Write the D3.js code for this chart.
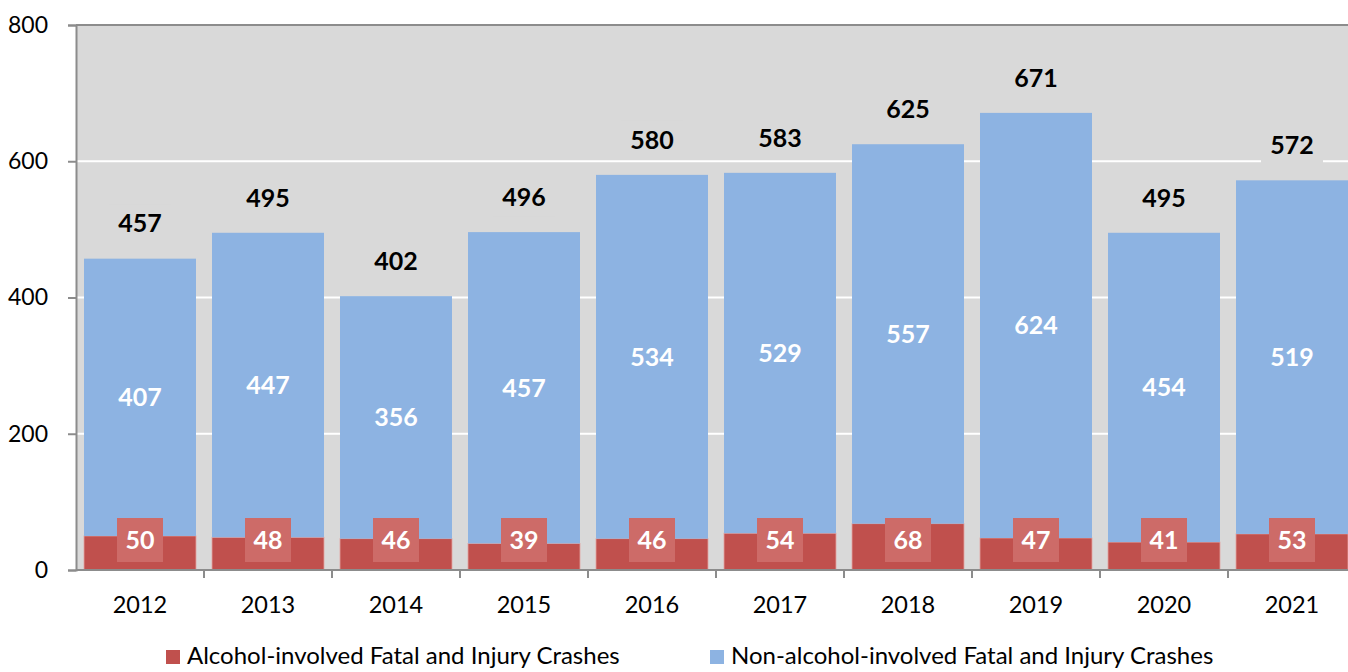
<!DOCTYPE html>
<html>
<head>
<meta charset="utf-8">
<script src="https://cdn.jsdelivr.net/npm/d3@7"></script>
<style>
  body { margin: 0; background: #fff; }
  svg { display: block; font-family: Lato, "Open Sans", sans-serif; }
</style>
</head>
<body>
<div id="chart"></div>
<script>
// data
const years = ['2012', '2013', '2014', '2015', '2016', '2017', '2018', '2019', '2020', '2021'];
const alcohol = [50, 48, 46, 39, 46, 54, 68, 47, 41, 53];
const nonAlcohol = [407, 447, 356, 457, 534, 529, 557, 624, 454, 519];
const yTicks = [0, 200, 400, 600, 800];
const seriesNames = ['Alcohol-involved Fatal and Injury Crashes', 'Non-alcohol-involved Fatal and Injury Crashes'];

const W = 1348, H = 672;
const margin = { top: 25, left: 76, bottom: 102 };
const plotH = H - margin.top - margin.bottom;

const rows = years.map((y, i) => ({ year: y, a: alcohol[i], n: nonAlcohol[i], total: alcohol[i] + nonAlcohol[i] }));

const svg = d3.select('#chart').append('svg')
  .attr('width', W)
  .attr('height', H);

const xScale = d3.scaleBand()
  .domain(years)
  .range([margin.left, margin.left + 128 * years.length])
  .paddingInner(0.125)
  .paddingOuter(0.0625);

const yScale = d3.scaleLinear()
  .domain([0, 800])
  .range([margin.top + plotH, margin.top]);

const x0 = margin.left, x1 = margin.left + 128 * years.length;

// plot background
svg.append('rect')
  .attr('x', x0).attr('y', yScale(800))
  .attr('width', x1 - x0).attr('height', yScale(0) - yScale(800))
  .attr('fill', '#d9d9d9');

// gridlines
svg.selectAll('.grid')
  .data(yTicks.filter(t => t > 0 && t < 800))
  .enter().append('line')
  .attr('x1', x0).attr('x2', x1)
  .attr('y1', d => yScale(d)).attr('y2', d => yScale(d))
  .attr('stroke', '#fff').attr('stroke-width', 2);

// stacked bars
const bw = xScale.bandwidth();
svg.selectAll('.bar-a')
  .data(rows).enter().append('rect')
  .attr('x', d => xScale(d.year))
  .attr('y', d => yScale(d.a))
  .attr('width', bw)
  .attr('height', d => yScale(0) - yScale(d.a))
  .attr('fill', '#c0504d')
  .attr('stroke', '#e3a3a1').attr('stroke-width', 0.8);

svg.selectAll('.bar-n')
  .data(rows).enter().append('rect')
  .attr('x', d => xScale(d.year))
  .attr('y', d => yScale(d.total))
  .attr('width', bw)
  .attr('height', d => yScale(d.a) - yScale(d.total))
  .attr('fill', '#8db3e2');

// non-alcohol labels (middle of blue segment)
svg.selectAll('.lab-n')
  .data(rows).enter().append('text')
  .attr('x', d => xScale(d.year) + bw / 2)
  .attr('y', d => yScale(d.a + d.n / 2))
  .attr('dy', '0.35em')
  .attr('text-anchor', 'middle')
  .attr('font-size', 25).attr('font-weight', 'bold')
  .attr('fill', '#fff')
  .text(d => d.n);

// alcohol labels in their boxes
const aLab = svg.selectAll('.lab-a').data(rows).enter().append('g')
  .attr('transform', d => `translate(${xScale(d.year) + bw / 2},${yScale(0) - 30})`);
aLab.append('rect')
  .attr('x', -23).attr('y', -22).attr('width', 46).attr('height', 44)
  .attr('fill', '#cd6b68');
aLab.append('text')
  .attr('dy', '0.35em')
  .attr('text-anchor', 'middle')
  .attr('font-size', 25).attr('font-weight', 'bold')
  .attr('fill', '#fff')
  .text(d => d.a);

// totals above bars
const tLab = svg.selectAll('.lab-t').data(rows).enter().append('g')
  .attr('transform', d => `translate(${xScale(d.year) + bw / 2},${yScale(d.total) - 35})`);
tLab.append('rect')
  .attr('x', -31).attr('y', -19).attr('width', 62).attr('height', 38)
  .attr('fill', '#d9d9d9');
tLab.append('text')
  .attr('dy', '0.35em')
  .attr('text-anchor', 'middle')
  .attr('font-size', 25).attr('font-weight', 'bold')
  .attr('fill', '#000')
  .text(d => d.total);

// y axis
const yAxis = svg.append('g')
  .attr('transform', `translate(${x0},0)`)
  .call(d3.axisLeft(yScale).tickValues(yTicks).tickSize(8).tickPadding(20));
yAxis.select('.domain').attr('stroke', '#8c8c8c').attr('stroke-width', 2);
yAxis.selectAll('.tick line').attr('stroke', '#8c8c8c').attr('stroke-width', 2);
yAxis.selectAll('.tick text').attr('font-size', 23).attr('fill', '#000')
  .attr('font-family', 'Lato, sans-serif');

// top border line at 800
svg.append('line')
  .attr('x1', x0).attr('x2', x1)
  .attr('y1', yScale(800)).attr('y2', yScale(800))
  .attr('stroke', '#8c8c8c').attr('stroke-width', 2);

// x axis with ticks between categories
const xg = svg.append('g').attr('transform', `translate(0,${yScale(0)})`);
xg.append('line')
  .attr('x1', x0).attr('x2', x1)
  .attr('stroke', '#8c8c8c').attr('stroke-width', 2);
xg.selectAll('.xt')
  .data(years.slice(1)).enter().append('line')
  .attr('x1', d => xScale(d) - xScale.step() * xScale.paddingInner() / 2)
  .attr('x2', d => xScale(d) - xScale.step() * xScale.paddingInner() / 2)
  .attr('y1', 0).attr('y2', 8)
  .attr('stroke', '#8c8c8c').attr('stroke-width', 2);
xg.selectAll('.xl')
  .data(years).enter().append('text')
  .attr('x', d => xScale(d) + bw / 2)
  .attr('y', 35)
  .attr('dy', '0.35em')
  .attr('text-anchor', 'middle')
  .attr('font-size', 23.5).attr('fill', '#000')
  .text(d => d);

// legend
const legColors = ['#c0504d', '#8db3e2'];
const legX = [166, 710];
const leg = svg.selectAll('.leg').data(seriesNames).enter().append('g')
  .attr('transform', (d, i) => `translate(${legX[i]},656)`);
leg.append('rect')
  .attr('x', 0).attr('y', -6).attr('width', 14).attr('height', 14)
  .attr('fill', (d, i) => legColors[i]);
leg.append('text')
  .attr('x', 21).attr('dy', '0.35em')
  .attr('font-size', 24).attr('fill', '#000')
  .text(d => d);
</script>
</body>
</html>
